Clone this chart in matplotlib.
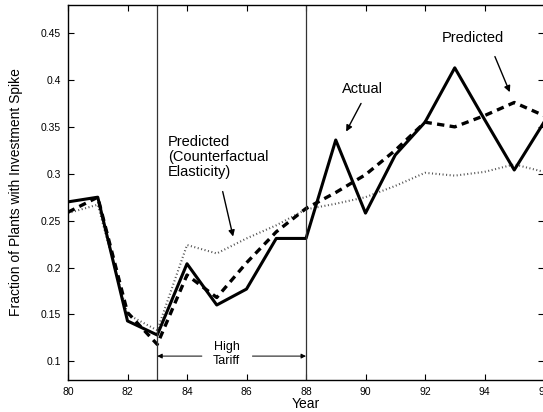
import matplotlib
matplotlib.use("Agg")
import matplotlib.pyplot as plt

plt.rcParams['font.family'] = ['Liberation Sans', 'DejaVu Sans']

years = list(range(80, 97))
actual = [0.270, 0.275, 0.143, 0.128, 0.204, 0.160, 0.177, 0.231, 0.231,
          0.336, 0.258, 0.320, 0.355, 0.413, 0.358, 0.304, 0.355]
predicted = [0.259, 0.275, 0.152, 0.118, 0.192, 0.168, 0.205, 0.238, 0.263,
             0.280, 0.299, 0.325, 0.355, 0.350, 0.362, 0.376, 0.362]
counterfactual = [0.258, 0.267, 0.150, 0.133, 0.224, 0.215, 0.231, 0.245, 0.262,
                  0.268, 0.275, 0.287, 0.301, 0.298, 0.302, 0.310, 0.302]

xticks = [80, 82, 84, 86, 88, 90, 92, 94, 96]
yticks = [0.1, 0.15, 0.2, 0.25, 0.3, 0.35, 0.4, 0.45]
ytick_labels = ['0.1', '0.15', '0.2', '0.25', '0.3', '0.35', '0.4', '0.45']
tariff_start, tariff_end = 83, 88

W, H = 543, 412
fig = plt.figure(figsize=(W / 100, H / 100), dpi=100)
left, right, bottom, top = 68, 544, 380, 5
ax = fig.add_axes([left / W, 1 - bottom / H, (right - left) / W, (bottom - top) / H])

ax.plot(years, counterfactual, color='#555555', lw=1.5, linestyle=(0, (0.5, 1.2)))
ax.plot(years, predicted, color='black', lw=2.4, linestyle=(0, (2.2, 1.6)))
ax.plot(years, actual, color='black', lw=2.2)

ax.axvline(tariff_start, color='#333333', lw=0.9)
ax.axvline(tariff_end, color='#333333', lw=0.9)

ax.set_xlim(80, 96)
ax.set_ylim(0.08, 0.48)
ax.set_xticks(xticks)
ax.set_xticklabels([str(x) for x in xticks])
ax.set_yticks(yticks)
ax.set_yticklabels(ytick_labels)
ax.tick_params(direction='in', length=4, width=0.8, top=True, right=True,
               labelsize=7.5, pad=5)
for s in ax.spines.values():
    s.set_linewidth(1.0)

ax.set_xlabel('Year', fontsize=10, labelpad=0)
ax.set_ylabel('Fraction of Plants with Investment Spike', fontsize=10, labelpad=13)

# High-tariff period marker
ax.annotate('', xy=(tariff_start, 0.1055), xytext=(84.5, 0.1055),
            arrowprops=dict(arrowstyle='-|>', color='black', lw=0.7,
                            mutation_scale=7, shrinkA=0, shrinkB=0))
ax.annotate('', xy=(tariff_end, 0.1055), xytext=(86.2, 0.1055),
            arrowprops=dict(arrowstyle='-|>', color='black', lw=0.7,
                            mutation_scale=7, shrinkA=0, shrinkB=0))
ax.text(85.33, 0.1075, 'High\nTariff', ha='center', va='center', fontsize=9,
        linespacing=1.2)

arrow = dict(arrowstyle='-|>', color='black', lw=1.0, mutation_scale=9,
             shrinkA=0, shrinkB=0)
fs = 10.5
ax.text(89.9, 0.3905, 'Actual', ha='center', va='center', fontsize=fs)
ax.annotate('', xy=(89.35, 0.345), xytext=(89.85, 0.375), arrowprops=arrow)

ax.text(93.6, 0.445, 'Predicted', ha='center', va='center', fontsize=fs)
ax.annotate('', xy=(94.85, 0.387), xytext=(94.35, 0.425), arrowprops=arrow)

ax.text(83.35, 0.318, 'Predicted\n(Counterfactual\nElasticity)', ha='left',
        va='center', fontsize=fs, linespacing=1.1)
ax.annotate('', xy=(85.55, 0.233), xytext=(85.2, 0.281), arrowprops=arrow)

fig.savefig('out.png', dpi=100)
